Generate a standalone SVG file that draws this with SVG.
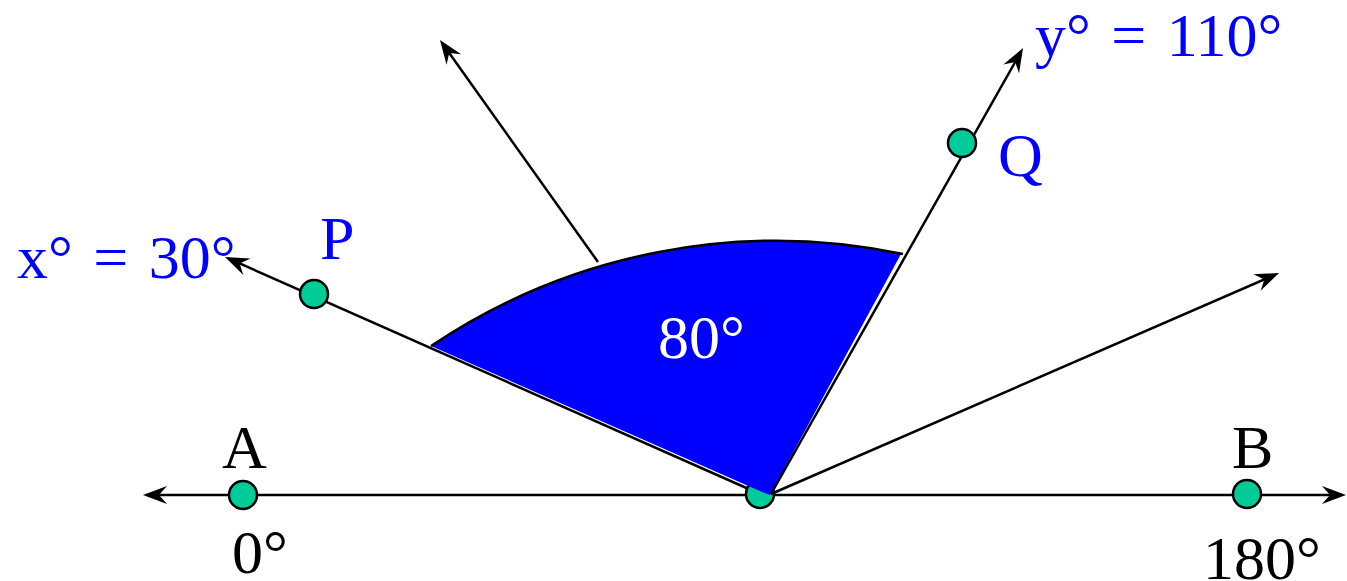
<svg xmlns="http://www.w3.org/2000/svg" width="1347" height="581" viewBox="0 0 1347 581">
<style>
.ln{stroke:#000;stroke-width:2.5;fill:none}
.dot{fill:#00CC99;stroke:#000;stroke-width:2.5}
.t{font-family:"Liberation Serif","Times New Roman",serif;font-size:62px}
.eq{word-spacing:5px}
.blue{fill:#0000FF}
.blk{fill:#000}
.wht{fill:#FFF}
</style>
<defs>
<marker id="ar" markerUnits="userSpaceOnUse" viewBox="-20 -11 30 22" markerWidth="30" markerHeight="22" refX="0" refY="0" orient="auto-start-reverse" overflow="visible">
<path d="M8,0 L-16,-9 L-8,0 L-16,9 Z" fill="#000"/>
</marker>
</defs>
<rect width="1347" height="581" fill="#FFF"/>
<g id="connectors">
<path class="ln" d="M151,495 L1338,495" marker-start="url(#ar)" marker-end="url(#ar)"/>
<path class="ln" d="M760,494 L232.3,260.2" marker-end="url(#ar)"/>
<path class="ln" d="M598,262 L444.6,46.5" marker-end="url(#ar)"/>
</g>
<g id="vertex"><circle class="dot" cx="760" cy="494" r="14"/></g>
<g id="sector">
<path d="M431,346 A618,618 0 0 1 901,254 L770,495 L762,492 Z" fill="#0000FF"/>
<path d="M431,346 A618,618 0 0 1 903,254" class="ln"/>
<text class="t wht" x="658" y="358">80°</text>
</g>
<g id="connectors2">
<path class="ln" d="M771,494 L1019.1,55" marker-end="url(#ar)"/>
<path class="ln" d="M771,494 L1271.7,276.2" marker-end="url(#ar)"/>
</g>
<g id="A"><circle class="dot" cx="243" cy="495" r="14"/><text class="t blk" x="222" y="468">A</text><text class="t blk" x="232" y="573">0°</text></g>
<g id="B"><circle class="dot" cx="1247" cy="494" r="14"/><text class="t blk" x="1232" y="468">B</text><text class="t blk" x="1203" y="579">180°</text></g>
<g id="P"><circle class="dot" cx="314" cy="294" r="14"/><text class="t blue" x="320" y="259">P</text><text class="t blue eq" x="17" y="278">x° = 30°</text></g>
<g id="Q"><circle class="dot" cx="962" cy="143" r="14"/><text class="t blue" x="998" y="176">Q</text><text class="t blue eq" x="1035" y="56">y° = 110°</text></g>
</svg>
